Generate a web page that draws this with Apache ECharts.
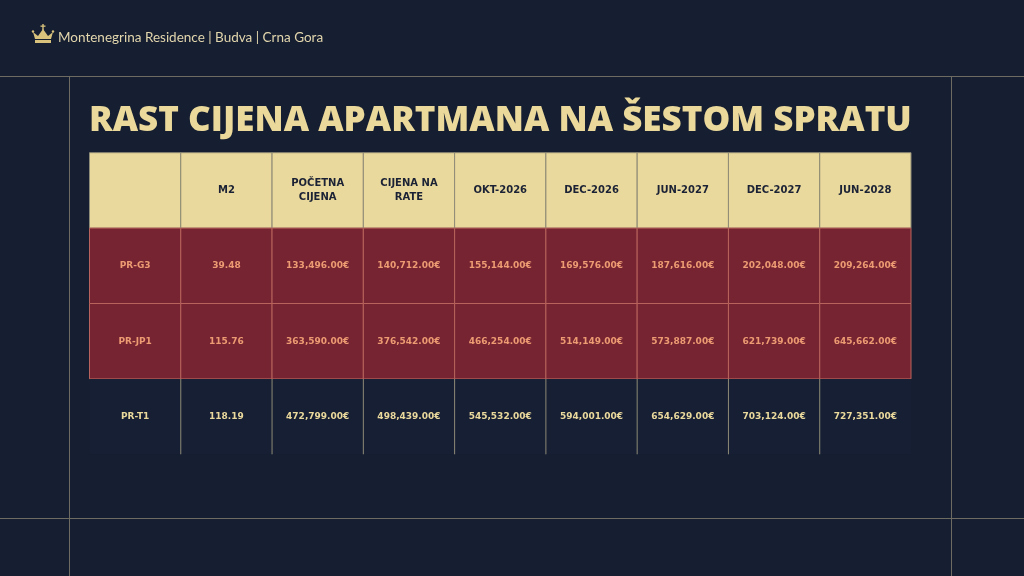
<!DOCTYPE html>
<html>
<head>
<meta charset="utf-8">
<script src="https://cdn.jsdelivr.net/npm/echarts@6/dist/echarts.min.js"></script>
<style>
html,body{margin:0;padding:0;background:#161e31;}
#c{width:1024px;height:576px;}
</style>
</head>
<body>
<div id="c"></div>
<script>
// ---- data ----
const columns = ['', 'M2', 'POČETNA\nCIJENA', 'CIJENA NA\nRATE', 'OKT-2026', 'DEC-2026', 'JUN-2027', 'DEC-2027', 'JUN-2028'];
const units = ['PR-G3', 'PR-JP1', 'PR-T1'];
const m2 = [39.48, 115.76, 118.19];
const pocetnaCijena = [133496, 363590, 472799];
const cijenaNaRate = [140712, 376542, 498439];
const okt2026 = [155144, 466254, 545532];
const dec2026 = [169576, 514149, 594001];
const jun2027 = [187616, 573887, 654629];
const dec2027 = [202048, 621739, 703124];
const jun2028 = [209264, 645662, 727351];
const titleText = 'RAST CIJENA APARTMANA NA ŠESTOM SPRATU';
const brandText = 'Montenegrina Residence | Budva | Crna Gora';

function eur(v) {
  return v.toLocaleString('en-US', {minimumFractionDigits: 2, maximumFractionDigits: 2}) + '€';
}

// build cell list
const rowNames = ['header'].concat(units);
const cells = [];
columns.forEach((t, c) => cells.push({value: [c, 0], text: t}));
units.forEach((u, i) => {
  const vals = [u, m2[i].toFixed(2), eur(pocetnaCijena[i]), eur(cijenaNaRate[i]), eur(okt2026[i]),
    eur(dec2026[i]), eur(jun2027[i]), eur(dec2027[i]), eur(jun2028[i])];
  vals.forEach((t, c) => cells.push({value: [c, i + 1], text: t}));
});

const rowStyle = [
  {fill: '#ead99c', stroke: '#8e8b76', text: '#1b2235'},
  {fill: '#772432', stroke: '#b8645c', text: '#ec9b72'},
  {fill: '#772432', stroke: '#b8645c', text: '#ec9b72'},
  {fill: '#171f34', stroke: null, text: '#ead99c'}
];

function renderItem(params, api) {
  const c = api.value(0), r = api.value(1);
  const center = api.coord([c, r]);
  const size = api.size([1, 1]);
  const w = size[0], h = size[1];
  const x = center[0] - w / 2, y = center[1] - h / 2;
  const st = rowStyle[r];
  const children = [];
  children.push({
    type: 'rect',
    shape: {x: x, y: y, width: w, height: h},
    style: {fill: st.fill, stroke: st.stroke || 'none', lineWidth: st.stroke ? 1 : 0}
  });
  if (!st.stroke && c > 0) {
    children.push({
      type: 'line',
      shape: {x1: x, y1: y, x2: x, y2: y + h},
      style: {stroke: '#8e8b76', lineWidth: 1}
    });
  }
  children.push({
    type: 'text',
    style: {
      text: cells[params.dataIndex].text,
      x: center[0], y: center[1],
      align: 'center', verticalAlign: 'middle',
      fill: st.text,
      font: 'bold ' + (r === 0 ? 10 : 9) + 'px "DejaVu Sans"',
      lineHeight: 14
    }
  });
  return {type: 'group', children: children};
}

const chart = echarts.init(document.getElementById('c'));
chart.setOption({
  backgroundColor: '#161e31',
  animation: false,
  title: {
    text: titleText,
    left: 89, top: 104, padding: 0,
    textStyle: {color: '#ead99a', fontFamily: 'Open Sans', fontWeight: 800, fontSize: 35}
  },
  grid: {left: 89.5, right: 113, top: 152.7, bottom: 121.7},
  xAxis: {type: 'category', data: columns.map((_, i) => i), show: false, boundaryGap: true},
  yAxis: {type: 'category', data: rowNames, inverse: true, show: false, boundaryGap: true},
  series: [{
    type: 'custom',
    renderItem: renderItem,
    data: cells,
    encode: {x: 0, y: 1}
  }],
  graphic: [
    {type: 'line', shape: {x1: 0, y1: 76.5, x2: 1024, y2: 76.5}, style: {stroke: '#6e6c62', lineWidth: 1}},
    {type: 'line', shape: {x1: 0, y1: 518.5, x2: 1024, y2: 518.5}, style: {stroke: '#6e6c62', lineWidth: 1}},
    {type: 'line', shape: {x1: 69.5, y1: 76, x2: 69.5, y2: 576}, style: {stroke: '#6e6c62', lineWidth: 1}},
    {type: 'line', shape: {x1: 951.5, y1: 76, x2: 951.5, y2: 576}, style: {stroke: '#6e6c62', lineWidth: 1}},
    {type: 'polygon', shape: {points: [[33, 32], [38, 36], [43, 29], [48, 36], [53, 32], [51, 39], [35, 39]]}, style: {fill: '#d8c27c'}},
    {type: 'rect', shape: {x: 35, y: 40, width: 16, height: 3}, style: {fill: '#d8c27c'}},
    {type: 'rect', shape: {x: 42.3, y: 24, width: 1.4, height: 6}, style: {fill: '#d8c27c'}},
    {type: 'rect', shape: {x: 40.5, y: 25.5, width: 5, height: 1.3}, style: {fill: '#d8c27c'}},
    {type: 'circle', shape: {cx: 33, cy: 31.5, r: 1.2}, style: {fill: '#d8c27c'}},
    {type: 'circle', shape: {cx: 53, cy: 31.5, r: 1.2}, style: {fill: '#d8c27c'}},
    {type: 'text', x: 58, y: 38, style: {text: brandText, fill: '#e2d6ad', font: '13.5px Lato', verticalAlign: 'middle'}}
  ]
});
</script>
</body>
</html>
